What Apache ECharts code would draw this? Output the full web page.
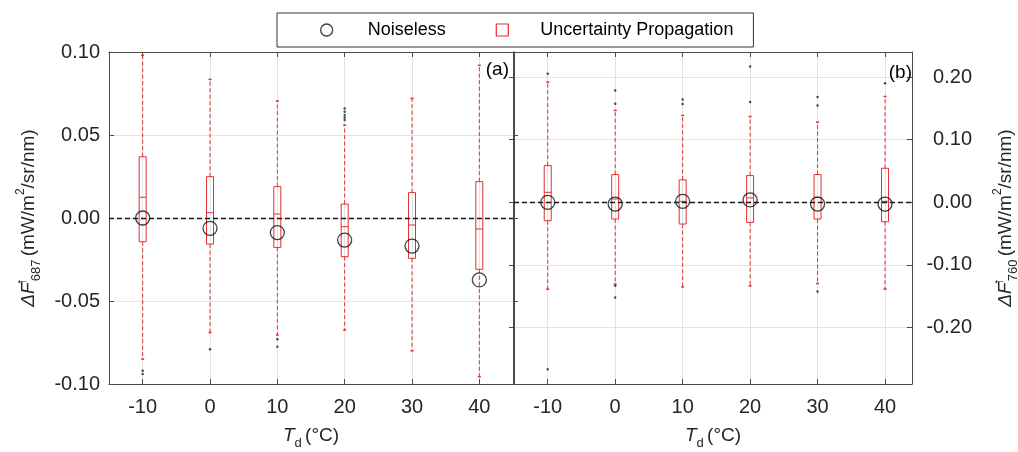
<!DOCTYPE html>
<html>
<head>
<meta charset="utf-8">
<script src="https://cdn.jsdelivr.net/npm/echarts@6/dist/echarts.min.js"></script>
<style>html,body{margin:0;padding:0;background:#fff;}#c{width:1018px;height:452px;}</style>
</head>
<body>
<div id="c"></div>
<script>
// ---- data ----
const categories = [-10, 0, 10, 20, 30, 40];
// [min whisker, Q1, median, Q3, max whisker]
const box687 = [
  [-0.085, -0.0143, 0.0125, 0.0369, 0.098],
  [-0.069, -0.0157, 0.0032, 0.0249, 0.0835],
  [-0.0705, -0.0177, 0.0024, 0.0189, 0.0705],
  [-0.0675, -0.0233, -0.0052, 0.0084, 0.056],
  [-0.080, -0.0243, -0.0042, 0.0153, 0.0721],
  [-0.0956, -0.0309, -0.0066, 0.0219, 0.092]
];
const noiseless687 = [0.000, -0.0062, -0.0088, -0.0133, -0.0169, -0.0373];
const outliers687 = [[-10, -0.092], [-10, -0.094], [0, -0.079], [10, -0.073], [10, -0.0775],
  [20, 0.066], [20, 0.064], [20, 0.062], [20, 0.0605], [20, 0.059]];

const box760 = [
  [-0.1386, -0.0293, 0.016, 0.0587, 0.192],
  [-0.1306, -0.0266, 0.0054, 0.0443, 0.1467],
  [-0.135, -0.0346, 0.0016, 0.0358, 0.1387],
  [-0.1333, -0.032, 0.007, 0.0427, 0.137],
  [-0.1296, -0.0266, 0.008, 0.0443, 0.128],
  [-0.1386, -0.031, 0.0016, 0.0544, 0.169]
];
const noiseless760 = [0.000, -0.0027, 0.0016, 0.0038, -0.0027, -0.0027];
const outliers760 = [[-10, 0.2054], [-10, -0.2666], [0, 0.1787], [0, 0.1574], [0, -0.1333], [0, -0.152],
  [10, 0.164], [10, 0.157], [20, 0.217], [20, 0.16], [30, 0.168], [30, 0.1547], [30, -0.1424], [40, 0.19]];

const legendNames = ['Noiseless', 'Uncertainty Propagation'];

// ---- styling ----
const FONT = '"Liberation Sans", Arial, sans-serif';
const TXT = '#262626';
const FRAME = '#4a4a4a';
const GRIDC = '#e3e3e3';
const RED = '#e0302f';
const LBL = 20;

const chart = echarts.init(document.getElementById('c'), null, {renderer: 'canvas'});

function fmt2(v) { if (Math.abs(v) < 1e-9) return '0.00'; return v.toFixed(2); }

const richBase = {
  d: {fontSize: 19, fontFamily: FONT, fontStyle: 'italic', color: TXT, lineHeight: 28},
  f: {fontSize: 19, fontFamily: FONT, fontStyle: 'italic', color: TXT, lineHeight: 28},
  ar: {fontSize: 14, fontFamily: FONT, color: TXT, verticalAlign: 'top', lineHeight: 13, width: 1},
  sb: {fontSize: 13, fontFamily: FONT, color: TXT, verticalAlign: 'bottom', lineHeight: 13},
  n: {fontSize: 19, fontFamily: FONT, color: TXT, lineHeight: 28},
  sp: {fontSize: 12, fontFamily: FONT, color: TXT, verticalAlign: 'top', lineHeight: 12},
  t: {fontSize: 19, fontFamily: FONT, fontStyle: 'italic', color: TXT, lineHeight: 28}
};

function xAxes(gridIndex, max) {
  return [{
    gridIndex, type: 'value', min: -15, max: max, position: 'bottom',
    axisLine: {show: true, onZero: false, lineStyle: {color: FRAME, width: 1}},
    axisTick: {show: true, inside: true, length: 5, lineStyle: {color: FRAME}},
    axisLabel: {show: true, margin: 13, fontSize: LBL, fontFamily: FONT, color: TXT,
      showMinLabel: false, showMaxLabel: false,
      formatter: v => (categories.indexOf(Math.round(v)) >= 0 && Math.abs(v - Math.round(v)) < 1e-6) ? String(Math.round(v)) : ''},
    splitLine: {show: true, lineStyle: {color: GRIDC, width: 1}},
    name: '{t|T}{sb|d} {n|(°C)}', nameLocation: 'middle', nameGap: 38,
    nameTextStyle: {rich: richBase}
  }, {
    gridIndex, type: 'value', min: -15, max: max, position: 'top',
    axisLine: {show: true, onZero: false, lineStyle: {color: FRAME, width: 1}},
    axisTick: {show: true, inside: true, length: 5, lineStyle: {color: FRAME}},
    axisLabel: {show: false}, splitLine: {show: false}
  }];
}

function boxRender(params, api) {
  const x = api.value(0);
  const lo = api.coord([x, api.value(1)]);
  const q1 = api.coord([x, api.value(2)]);
  const md = api.coord([x, api.value(3)]);
  const q3 = api.coord([x, api.value(4)]);
  const hi = api.coord([x, api.value(5)]);
  const cx = lo[0];
  const w = 7;
  const dashStyle = {stroke: RED, lineWidth: 1, lineDash: [4, 2.5], fill: null};
  const solid = {stroke: RED, lineWidth: 1, fill: null};
  return {
    type: 'group',
    children: [
      {type: 'line', shape: {x1: cx, y1: q3[1], x2: cx, y2: hi[1]}, style: dashStyle},
      {type: 'line', shape: {x1: cx, y1: q1[1], x2: cx, y2: lo[1]}, style: dashStyle},
      {type: 'line', shape: {x1: cx - 1.5, y1: hi[1], x2: cx + 1.5, y2: hi[1]}, style: {stroke: RED, lineWidth: 1.5}},
      {type: 'line', shape: {x1: cx - 1.5, y1: lo[1], x2: cx + 1.5, y2: lo[1]}, style: {stroke: RED, lineWidth: 1.5}},
      {type: 'rect', shape: {x: cx - w / 2, y: q3[1], width: w, height: q1[1] - q3[1]}, style: {stroke: RED, lineWidth: 1, fill: 'rgba(255,255,255,0)'}},
      {type: 'line', shape: {x1: cx - w / 2, y1: md[1], x2: cx + w / 2, y2: md[1]}, style: solid}
    ]
  };
}

function boxData(box) { return box.map((b, i) => [categories[i], b[0], b[1], b[2], b[3], b[4]]); }
function pts(arr) { return arr.map((v, i) => [categories[i], v]); }

const zeroLine = {
  silent: true, symbol: 'none', label: {show: false},
  lineStyle: {type: [5, 3], color: '#1a1a1a', width: 1.3},
  data: [{yAxis: 0}]
};

const option = {
  backgroundColor: '#fff',
  animation: false,
  legend: {
    left: 277, top: 13,
    orient: 'horizontal',
    selectedMode: false,
    itemWidth: 12, itemHeight: 12, itemGap: 50,
    padding: [7, 20, 7, 43],
    borderColor: '#333', borderWidth: 1, backgroundColor: '#fff',
    textStyle: {fontSize: 18, fontFamily: FONT, color: '#000', lineHeight: 20},
    data: [
      {name: legendNames[0], icon: 'circle', itemStyle: {color: 'rgba(0,0,0,0)', borderColor: '#111', borderWidth: 1.3},
        textStyle: {padding: [0, 0, 0, 30]}},
      {name: legendNames[1], icon: 'path://M0,0L10,0L10,10L0,10Z', itemStyle: {color: 'rgba(0,0,0,0)', borderColor: RED, borderWidth: 1.2},
        textStyle: {padding: [0, 0, 0, 27]}}
    ]
  },
  grid: [
    {left: 109, top: 52, width: 404, height: 332, outerBoundsMode: 'none', containLabel: false},
    {left: 514, top: 52, width: 398, height: 332, outerBoundsMode: 'none', containLabel: false}
  ],
  xAxis: [...xAxes(0, 45), ...xAxes(1, 44)],
  yAxis: [
    {
      gridIndex: 0, type: 'value', min: -0.1, max: 0.1, interval: 0.05, position: 'left',
      axisLine: {show: true, onZero: false, lineStyle: {color: FRAME}},
      axisTick: {show: true, inside: true, length: 5, lineStyle: {color: FRAME}},
      axisLabel: {margin: 9, fontSize: LBL, fontFamily: FONT, color: TXT, formatter: fmt2},
      splitLine: {show: true, lineStyle: {color: GRIDC}},
      name: '{d|Δ}{f|F}{ar|↑}{sb|687} {n|(mW/m}{sp|2}{n|/sr/nm)}',
      nameLocation: 'middle', nameRotate: 90, nameGap: 66,
      nameTextStyle: {rich: richBase}
    },
    {
      gridIndex: 0, type: 'value', min: -0.1, max: 0.1, interval: 0.05, position: 'right',
      axisLine: {show: true, onZero: false, lineStyle: {color: FRAME}},
      axisTick: {show: true, inside: false, length: 5, lineStyle: {color: FRAME}},
      axisLabel: {show: false}, splitLine: {show: false}
    },
    {
      gridIndex: 1, type: 'value', min: -0.29, max: 0.24, position: 'right',
      axisLine: {show: true, onZero: false, lineStyle: {color: FRAME}},
      axisTick: {show: true, inside: true, length: 5, lineStyle: {color: FRAME}},
      axisLabel: {margin: 60, align: 'right', fontSize: LBL, fontFamily: FONT, color: TXT,
        showMinLabel: false, showMaxLabel: false, formatter: fmt2},
      splitLine: {show: true, lineStyle: {color: GRIDC}},
      name: '{d|Δ}{f|F}{ar|↑}{sb|760} {n|(mW/m}{sp|2}{n|/sr/nm)}',
      nameLocation: 'middle', nameRotate: 90, nameGap: 80,
      nameTextStyle: {rich: richBase}
    },
    {
      gridIndex: 1, type: 'value', min: -0.29, max: 0.24, position: 'left',
      axisLine: {show: true, onZero: false, lineStyle: {color: FRAME}},
      axisTick: {show: true, inside: false, length: 5, lineStyle: {color: FRAME}},
      axisLabel: {show: false}, splitLine: {show: false}
    }
  ],
  graphic: [
    {type: 'text', x: 509, y: 70, z: 10, style: {text: '(a)', align: 'right', verticalAlign: 'middle', fontSize: 19, fontFamily: FONT, fill: '#000'}},
    {type: 'text', x: 912, y: 73, z: 10, style: {text: '(b)', align: 'right', verticalAlign: 'middle', fontSize: 19, fontFamily: FONT, fill: '#000'}}
  ],
  series: [
    {name: legendNames[1], type: 'custom', xAxisIndex: 0, yAxisIndex: 0, z: 2,
      renderItem: boxRender, encode: {x: 0, y: [1, 2, 3, 4, 5]}, data: boxData(box687),
      itemStyle: {color: 'rgba(0,0,0,0)', borderColor: RED}},
    {name: legendNames[1], type: 'custom', xAxisIndex: 2, yAxisIndex: 2, z: 2,
      renderItem: boxRender, encode: {x: 0, y: [1, 2, 3, 4, 5]}, data: boxData(box760),
      itemStyle: {color: 'rgba(0,0,0,0)', borderColor: RED}},
    {name: 'outliers687', type: 'scatter', xAxisIndex: 0, yAxisIndex: 0, z: 3, symbol: 'circle', symbolSize: 2.5,
      itemStyle: {color: '#222'}, data: outliers687},
    {name: 'outliers760', type: 'scatter', xAxisIndex: 2, yAxisIndex: 2, z: 3, symbol: 'circle', symbolSize: 2.5,
      itemStyle: {color: '#222'}, data: outliers760},
    {name: legendNames[0], type: 'scatter', xAxisIndex: 0, yAxisIndex: 0, z: 4, symbol: 'circle', symbolSize: 14,
      itemStyle: {color: 'rgba(0,0,0,0)', borderColor: '#111', borderWidth: 1.3},
      data: pts(noiseless687), markLine: zeroLine},
    {name: legendNames[0], type: 'scatter', xAxisIndex: 2, yAxisIndex: 2, z: 4, symbol: 'circle', symbolSize: 14,
      itemStyle: {color: 'rgba(0,0,0,0)', borderColor: '#111', borderWidth: 1.3},
      data: pts(noiseless760), markLine: zeroLine}
  ]
};
chart.setOption(option);
</script>
</body>
</html>
